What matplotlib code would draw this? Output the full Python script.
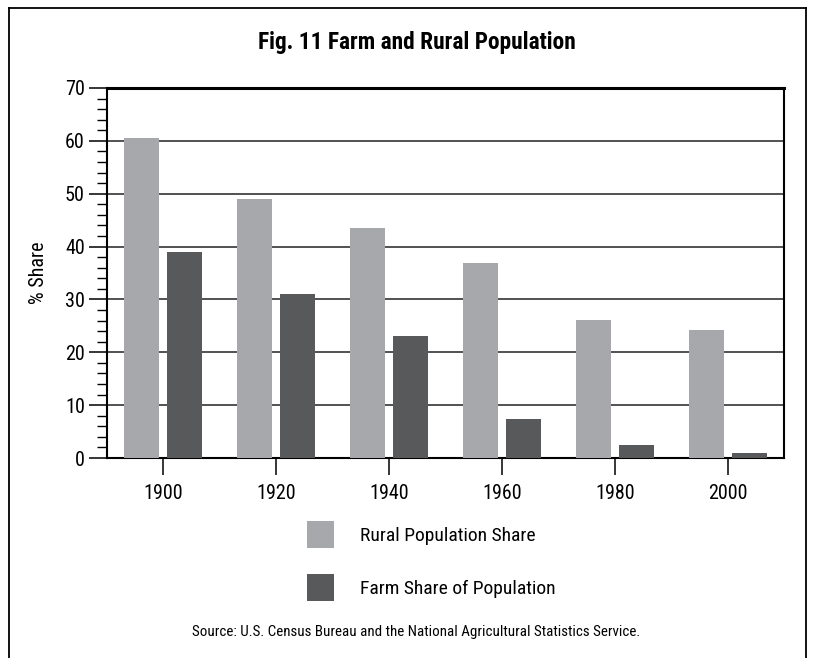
import matplotlib
matplotlib.use("Agg")
import matplotlib.pyplot as plt
import numpy as np
from matplotlib.lines import Line2D
from matplotlib.ticker import MultipleLocator

plt.rcParams["font.family"] = ["Roboto Condensed", "Liberation Sans", "DejaVu Sans"]

years = ["1900", "1920", "1940", "1960", "1980", "2000"]
rural_share = [60.5, 49.0, 43.5, 36.9, 26.2, 24.2]
farm_share = [39.0, 31.0, 23.0, 7.4, 2.5, 1.0]

RURAL_COLOR = "#a7a8ab"
FARM_COLOR = "#58595b"

fig = plt.figure(figsize=(8.14, 6.58), dpi=100)
ax = fig.add_axes([107 / 814, 1 - 458 / 658, 677 / 814, 370 / 658])

x = np.arange(len(years))
w = 0.31
off = 0.19
rural_bars = ax.bar(x - off, rural_share, w, color=RURAL_COLOR, zorder=3,
                    label="Rural Population Share")
farm_bars = ax.bar(x + off, farm_share, w, color=FARM_COLOR, zorder=3,
                   label="Farm Share of Population")

ax.set_xlim(-0.5, 5.5)
ax.set_ylim(0, 70)
ax.set_xticks(x)
ax.set_xticklabels(years)
ax.yaxis.set_major_locator(MultipleLocator(10))
ax.yaxis.set_minor_locator(MultipleLocator(2))

ax.grid(axis="y", which="major", color="#333333", linewidth=1.2, zorder=1)
for s in ax.spines.values():
    s.set_color("black")
    s.set_linewidth(1.5)
ax.spines["top"].set_linewidth(2.2)

ax.tick_params(axis="y", which="major", length=13, width=1.1, pad=3, labelsize=14.5)
ax.tick_params(axis="y", which="minor", length=7, width=1.0)
ax.tick_params(axis="x", length=12, width=1.1, pad=7, labelsize=14.5)

ax.set_ylabel("% Share", fontsize=14.5)
ax.yaxis.set_label_coords(-0.087, 0.5)

fig.text(0.512, 1 - 43 / 658, "Fig. 11 Farm and Rural Population",
         ha="center", va="center", fontsize=16.8, fontweight="bold")

ax.legend(handles=[rural_bars, farm_bars], loc="upper left",
          bbox_to_anchor=(307 / 814, 1 - 521 / 658), bbox_transform=fig.transFigure,
          frameon=False, fontsize=14, handlelength=1.39, handleheight=1.76,
          handletextpad=1.34, labelspacing=1.34, borderpad=0, borderaxespad=0)

fig.text(0.511, 1 - 632 / 658,
         "Source: U.S. Census Bureau and the National Agricultural Statistics Service.",
         ha="center", va="center", fontsize=10.8)

# page frame: left, top and right edges
for xs, ys in [([9, 9], [0, 650]), ([9, 806], [650, 650]), ([806, 806], [650, 0])]:
    fig.add_artist(Line2D([v / 814 for v in xs], [v / 658 for v in ys],
                          color="black", linewidth=1.3))

fig.savefig("out.png", dpi=100)
